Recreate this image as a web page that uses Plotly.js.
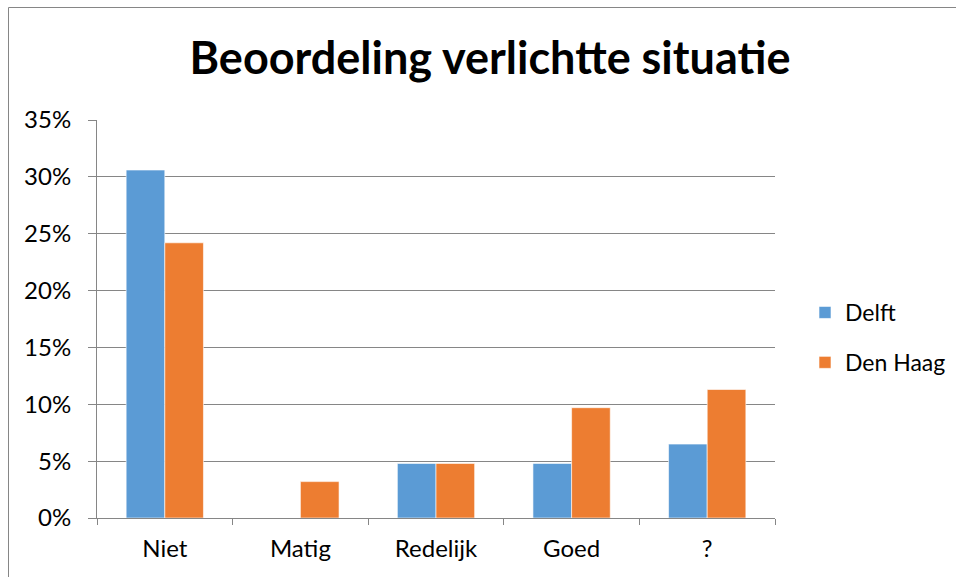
<!DOCTYPE html>
<html>
<head>
<meta charset="utf-8">
<script src="https://cdn.plot.ly/plotly-3.0.1.min.js"></script>
<style>
html,body{margin:0;padding:0;background:#fff;}
#chart{width:956px;height:577px;}
</style>
</head>
<body>
<div id="chart"></div>
<script>
const categories = ["Niet", "Matig", "Redelijk", "Goed", "?"];
const delft = [0.306, 0, 0.048, 0.048, 0.065];
const denHaag = [0.242, 0.032, 0.048, 0.097, 0.113];
const seriesNames = ["Delft", "Den Haag"];
const yTicks = [0, 0.05, 0.10, 0.15, 0.20, 0.25, 0.30, 0.35];
const yTickLabels = ["0%", "5%", "10%", "15%", "20%", "25%", "30%", "35%"];

const W = 956, H = 577;
const m = {l: 97, r: 181, t: 120, b: 59, autoexpand: false};
const pw = W - m.l - m.r, ph = H - m.t - m.b;
// outer chart frame (top-left visible) in paper coords
const fx0 = (8.5 - m.l) / pw, fx1 = (W + 5 - m.l) / pw;
const fy1 = 1 + (m.t - 7.5) / ph, fy0 = -(m.b + 5) / ph;

const traces = [
  {type: "bar", name: seriesNames[0], x: categories, y: delft,
   marker: {color: "#5B9BD5", line: {color: "#ffffff", width: 0.6}}, legendgroup: "a"},
  {type: "bar", name: seriesNames[1], x: categories, y: denHaag,
   marker: {color: "#ED7D31", line: {color: "#ffffff", width: 0.6}}, legendgroup: "b"}
];

const layout = {
  width: W, height: H,
  margin: m,
  paper_bgcolor: "#fff", plot_bgcolor: "#fff",
  font: {family: "Lato, 'Open Sans', sans-serif", color: "#000"},
  title: {text: "<b>Beoordeling verlichtte situatie</b>", font: {size: 45, color: "#000"},
          x: 490 / W, xref: "container", xanchor: "center", y: 1 - 58 / H, yref: "container", yanchor: "middle"},
  barmode: "group",
  bargap: 0.43, bargroupgap: 0,
  xaxis: {
    type: "category", tickson: "boundaries", ticks: "outside", ticklen: 6, tickcolor: "#868686",
    showline: true, linecolor: "#868686", linewidth: 1, showgrid: false,
    tickfont: {size: 24, color: "#000"}, ticklabelstandoff: 9
  },
  yaxis: {
    range: [0, 0.35], tickvals: yTicks, ticktext: yTickLabels,
    ticks: "outside", ticklen: 8, tickcolor: "#868686",
    showgrid: true, gridcolor: "#868686", gridwidth: 1,
    showline: true, linecolor: "#868686", zeroline: false,
    tickfont: {size: 24, color: "#000"}, ticklabelstandoff: 12
  },
  legend: {
    x: (805 - m.l) / pw, xanchor: "left", y: 1 - (291 - m.t) / ph, yanchor: "top",
    font: {size: 23, color: "#000"}, traceorder: "grouped", tracegroupgap: 17,
    itemwidth: 30, bgcolor: "rgba(0,0,0,0)"
  },
  shapes: [
    {type: "rect", xref: "paper", yref: "paper", x0: fx0, x1: fx1, y0: fy0, y1: fy1,
     line: {color: "#868686", width: 1}, fillcolor: "rgba(0,0,0,0)", layer: "below"}
  ],
  showlegend: true
};

Plotly.newPlot("chart", traces, layout, {staticPlot: true, displayModeBar: false});
</script>
</body>
</html>
